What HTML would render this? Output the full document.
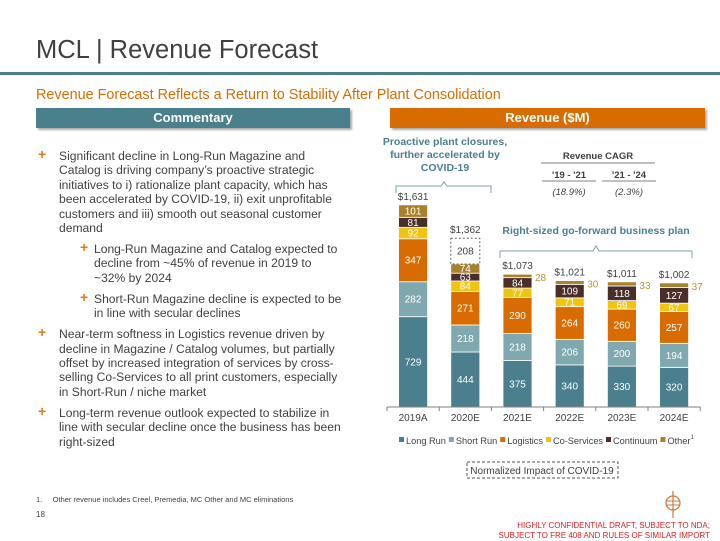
<!DOCTYPE html>
<html><head><meta charset="utf-8"><style>
body{margin:0;width:720px;height:540px;position:relative;background:#fff;font-family:"Liberation Sans",sans-serif;overflow:hidden}
.a{position:absolute}
.cm{left:36px;top:149px;width:330px;font-size:12.1px;line-height:14.4px;color:#404040;white-space:nowrap}
.cm p{margin:0 0 6.6px 0;position:relative;padding-left:23px}
.cm p.s{padding-left:58px}
.cm p:before{content:"+";position:absolute;left:2px;top:-2px;color:#e07a20;font-weight:bold;font-size:14px}
.cm p.s:before{left:44px}
</style></head><body>
<div class="a" style="left:36px;top:36px;font-size:25.5px;color:#404040">MCL | Revenue Forecast</div>
<div class="a" style="left:0;top:72px;width:720px;height:3px;background:#4a7f8c"></div>
<div class="a" style="left:36px;top:87px;font-size:14.4px;color:#d96c00">Revenue Forecast Reflects a Return to Stability After Plant Consolidation</div>
<div class="a" style="left:36px;top:108px;width:314px;height:20px;background:#4a7f8c;color:#fff;font-weight:bold;font-size:13px;text-align:center;line-height:20px;box-shadow:2px 2px 2px #aaa">Commentary</div>
<div class="a" style="left:390px;top:108px;width:315px;height:20px;background:#d96c00;color:#fff;font-weight:bold;font-size:13px;text-align:center;line-height:20px;box-shadow:2px 2px 2px #aaa">Revenue ($M)</div>
<div class="a cm">
<p>Significant decline in Long-Run Magazine and<br>Catalog is driving company’s proactive strategic<br>initiatives to i) rationalize plant capacity, which has<br>been accelerated by COVID-19, ii) exit unprofitable<br>customers and iii) smooth out seasonal customer<br>demand</p>
<p class="s">Long-Run Magazine and Catalog expected to<br>decline from ~45% of revenue in 2019 to<br>~32% by 2024</p>
<p class="s">Short-Run Magazine decline is expected to be<br>in line with secular declines</p>
<p>Near-term softness in Logistics revenue driven by<br>decline in Magazine / Catalog volumes, but partially<br>offset by increased integration of services by cross-<br>selling Co-Services to all print customers, especially<br>in Short-Run / niche market</p>
<p>Long-term revenue outlook expected to stabilize in<br>line with secular decline once the business has been<br>right-sized</p>
</div>
<div class="a" style="left:36px;top:495px;font-size:7.5px;color:#404040">1.&nbsp;&nbsp;&nbsp;&nbsp;&nbsp;Other revenue includes Creel, Premedia, MC Other and MC eliminations</div>
<div class="a" style="left:36px;top:510px;font-size:8px;color:#404040">18</div>
<div class="a" style="right:10px;top:521px;font-size:8px;color:#e02020;text-align:right;line-height:10px">HIGHLY CONFIDENTIAL DRAFT, SUBJECT TO NDA;<br>SUBJECT TO FRE 408 AND RULES OF SIMILAR IMPORT</div>
<svg class="a" style="left:662px;top:490px" width="22" height="30"><circle cx="11" cy="13" r="7" fill="none" stroke="#c87a40" stroke-width="1.2"/><line x1="11" y1="1" x2="11" y2="28" stroke="#c87a40" stroke-width="1.2"/><line x1="4" y1="11" x2="18" y2="11" stroke="#c87a40"/><line x1="4" y1="15" x2="18" y2="15" stroke="#c87a40"/></svg>
<svg class="a" id="chart" style="left:0;top:0" width="720" height="540" font-family="Liberation Sans, sans-serif"></svg>
<script>
const years=["2019A","2020E","2021E","2022E","2023E","2024E"];
const longRun=[729,444,375,340,330,320];
const shortRun=[282,218,218,206,200,194];
const logistics=[347,271,290,264,260,257];
const coServices=[92,84,77,71,69,67];
const continuum=[81,63,84,109,118,127];
const other=[101,74,28,30,33,37];
const covidImpact=[0,208,0,0,0,0];
const totals=["$1,631","$1,362","$1,073","$1,021","$1,011","$1,002"];
const seriesNames=["Long Run","Short Run","Logistics","Co-Services","Continuum","Other"];
const cagrLabels=["'19 - '21","'21 - '24"];
const cagrValues=["(18.9%)","(2.3%)"];
const colors=["#4b7f8d","#80a9af","#d96c00","#f2c40f","#4a2e2a","#a8812a"];
const series=[longRun,shortRun,logistics,coServices,continuum,other];
const svg=document.getElementById('chart');const NS="http://www.w3.org/2000/svg";
function mk(t,a,txt){const e=document.createElementNS(NS,t);for(const k in a)e.setAttribute(k,a[k]);if(txt!==undefined)e.textContent=txt;svg.appendChild(e);return e;}
const base=407,k=0.1239,x0=387,step=52.2,bw=29;
const y=v=>base-v*k; const xc=i=>x0+step*(i+0.5);
years.forEach((yr,i)=>{
 let cum=0;
 series.forEach((s,j)=>{
  const v=s[i];const top=y(cum+v);
  const r=mk('rect',{x:xc(i)-bw/2,y:top,width:bw,height:v*k,fill:colors[j],stroke:'#fff','stroke-width':0.8});
  
  
  if(j==5&&v<50){const t=mk('text',{x:xc(i)+bw/2+3,y:top+7,'font-size':10,fill:'#b8903a'},v);}
  else{const t=mk('text',{x:xc(i),y:top+v*k/2+3.5,'font-size':10,fill:'#fff','text-anchor':'middle'},v);}
  cum+=v;
 });
 if(covidImpact[i]>0){const v=covidImpact[i];const r=mk('rect',{x:xc(i)-bw/2,y:y(cum+v),width:bw,height:v*k,fill:'none',stroke:'#666','stroke-dasharray':'2,2'});
  
  mk('text',{x:xc(i),y:y(cum+v/2)+3.5,'font-size':10,fill:'#404040','text-anchor':'middle'},v);cum+=v;}
 const t=mk('text',{x:xc(i),y:y(cum)-5,'font-size':10,fill:'#404040','text-anchor':'middle'},totals[i]);
 
 const l=mk('text',{x:xc(i),y:421,'font-size':10,fill:'#404040','text-anchor':'middle'},yr);
 
});
const ax=mk('line',{x1:x0,x2:x0+step*6,y1:base,y2:base,stroke:'#808080'});
for(let i=0;i<=6;i++)mk('line',{x1:x0+step*i,x2:x0+step*i,y1:base,y2:base+4,stroke:'#808080'});
let lx=399;seriesNames.forEach((n,j)=>{mk('rect',{x:lx,y:437,width:5,height:5,fill:colors[j]});
 const t=mk('text',{x:lx+7,y:444,'font-size':9.2,fill:'#404040'},n);
 lx+=7+t.getComputedTextLength()+3;});
mk('text',{x:lx-3,y:439,'font-size':6,fill:'#404040'},'1');
mk('rect',{x:467,y:462,width:151,height:16,fill:'none',stroke:'#555','stroke-dasharray':'3,2'});
mk('text',{x:542,y:474,'font-size':10,fill:'#404040','text-anchor':'middle'},'Normalized Impact of COVID-19');
[["Proactive plant closures,",145],["further accelerated by",158],["COVID-19",171]].forEach(a=>mk('text',{x:445,y:a[1],'font-size':10.5,'font-weight':'bold',fill:'#4b7f8d','text-anchor':'middle'},a[0]));
mk('path',{d:'M396,193 V186 H441 L444,182 L447,186 H491 V193',fill:'none',stroke:'#7fa0a8'});
mk('text',{x:596,y:234,'font-size':10.5,'font-weight':'bold',fill:'#4b7f8d','text-anchor':'middle'},'Right-sized go-forward business plan');
mk('path',{d:'M500,258 V251 H593 L596,246 L599,251 H692 V258',fill:'none',stroke:'#7fa0a8'});
mk('text',{x:598,y:159,'font-size':9.5,'font-weight':'bold',fill:'#404040','text-anchor':'middle'},'Revenue CAGR');
mk('line',{x1:541,x2:655,y1:163,y2:163,stroke:'#808080'});
cagrLabels.forEach((c,i)=>{const cx=569+i*60;mk('text',{x:cx,y:178,'font-size':9.5,'font-weight':'bold',fill:'#404040','text-anchor':'middle'},c);
 mk('line',{x1:cx-27,x2:cx+27,y1:181,y2:181,stroke:'#808080'});
 mk('text',{x:cx,y:195,'font-size':9.5,'font-style':'italic',fill:'#404040','text-anchor':'middle'},cagrValues[i]);});
</script>
</body></html>
